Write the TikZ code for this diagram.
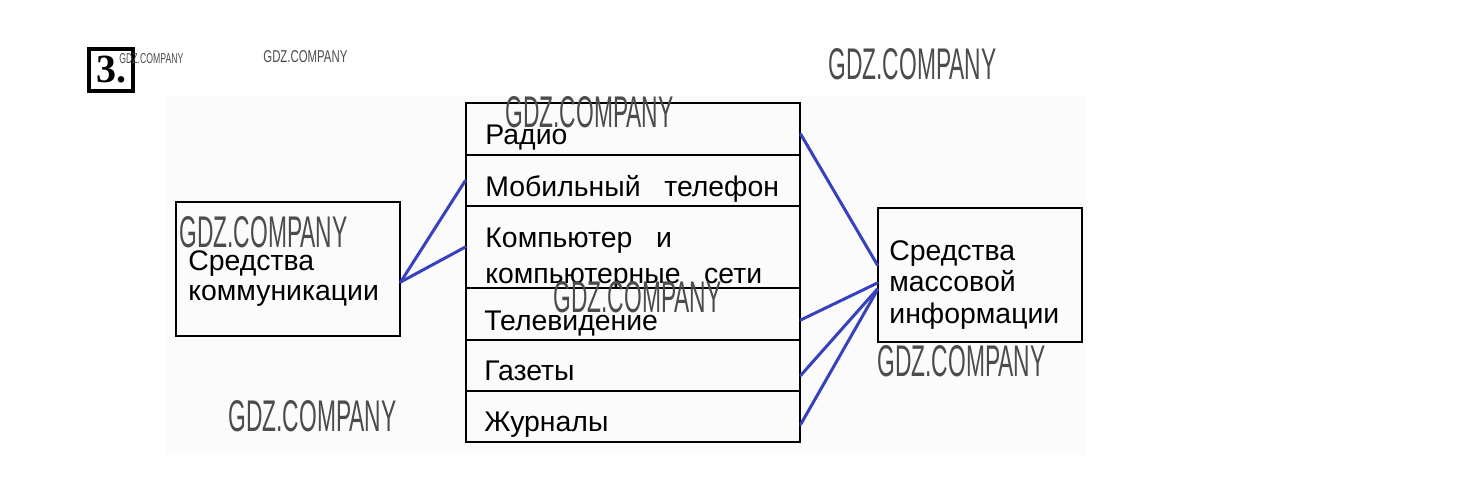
\documentclass[tikz,border=0pt]{standalone}
\usepackage{fontspec}
\setmainfont{Liberation Sans}
\newfontfamily\numfont{Liberation Serif}
\newfontfamily\wmfont{Liberation Sans}
\usetikzlibrary{positioning}
\definecolor{linkblue}{RGB}{55,65,190}
\newcommand{\wmark}{\resizebox{84pt}{15.5pt}{\wmfont GDZ.COMPANY}}
\begin{document}
\begin{tikzpicture}[
    x=0.5pt, y=-0.5pt,
    frame/.style={draw, line width=0.6pt, inner sep=0pt},
    row/.style={frame, minimum width=167pt},
    txt/.style={font=\fontsize{14.2}{16}\selectfont, inner sep=0pt, anchor=base west},
    link/.style={draw=linkblue, line width=1.5pt, line cap=round},
    wm/.style={inner sep=0pt, anchor=north west, text=black!70},
  ]
    \useasboundingbox (0,0) rectangle (1460,484);
    \fill[black!1.5] (167,96) rectangle (1087,455);

    % task number
    \node[draw, line width=2pt, minimum width=22pt, minimum height=21pt, inner sep=0pt,
          font=\numfont\bfseries\fontsize{20}{20}\selectfont] (num) at (111,70) {3.};

    % === left box ===
    \node[frame, minimum width=112pt, minimum height=67pt] (comm) at (288,269) {};
    \node[txt] (comm1) at (188,270) {Средства};
    \node[txt] (comm2) at (188,300) {коммуникации};

    % === middle table ===
    \node[row, minimum height=26pt]   (radio)  at (633,129)   {};
    \node[row, minimum height=25.5pt] (mobile) at (633,180.5) {};
    \node[row, minimum height=41pt]   (comp)   at (633,247)   {};
    \node[row, minimum height=26pt]   (tv)     at (633,314)   {};
    \node[row, minimum height=25.5pt] (gaz)    at (633,365.5) {};
    \node[row, minimum height=25.5pt] (jour)   at (633,416.5) {};

    \node[txt] (radiot)  at (485,144) {Радио};
    \node[txt] (mobilet) at (485,196) {Мобильный\ \ \ телефон};
    \node[txt] (compt1)  at (485,247) {Компьютер\ \ \ и};
    \node[txt] (compt2)  at (485,283) {компьютерные\ \ \ сети};
    \node[txt] (tvt)     at (484,330) {Телевидение};
    \node[txt] (gazt)    at (484,380) {Газеты};
    \node[txt] (jourt)   at (484,431) {Журналы};

    % === right box ===
    \node[frame, minimum width=102pt, minimum height=67pt] (mass) at (980,275) {};
    \node[txt] (mass1) at (889,260) {Средства};
    \node[txt] (mass2) at (889,291) {массовой};
    \node[txt] (mass3) at (889,323) {информации};

    % === connectors ===
    \draw[link] ([yshift=-6.5pt]comm.east) -- (mobile.west);
    \draw[link] ([yshift=-6.5pt]comm.east) -- (comp.west);
    \draw[link] ([yshift=-2.5pt]radio.east) -- ([yshift=5pt]mass.west);
    \draw[link] ([yshift=-3pt]tv.east) -- ([yshift=-4pt]mass.west);
    \draw[link] ([yshift=-5pt]gaz.east) -- ([yshift=-7pt]mass.west);
    \draw[link] ([yshift=-4pt]jour.east) -- ([yshift=-7.5pt]mass.west);

    % === watermarks ===
    \node[wm] (wm1) at (119,53) {\resizebox{32pt}{5pt}{\wmfont GDZ.COMPANY}};
    \node[wm] (wm2) at (263,50) {\resizebox{42pt}{6pt}{\wmfont GDZ.COMPANY}};
    \node[wm] (wm3) at (828,48)  {\wmark};
    \node[wm] (wm4) at (505,96)  {\wmark};
    \node[wm] (wm5) at (179,216) {\wmark};
    \node[wm] (wm6) at (553,281) {\wmark};
    \node[wm] (wm7) at (877,345) {\wmark};
    \node[wm] (wm8) at (228,400) {\wmark};
  \end{tikzpicture}
\end{document}
